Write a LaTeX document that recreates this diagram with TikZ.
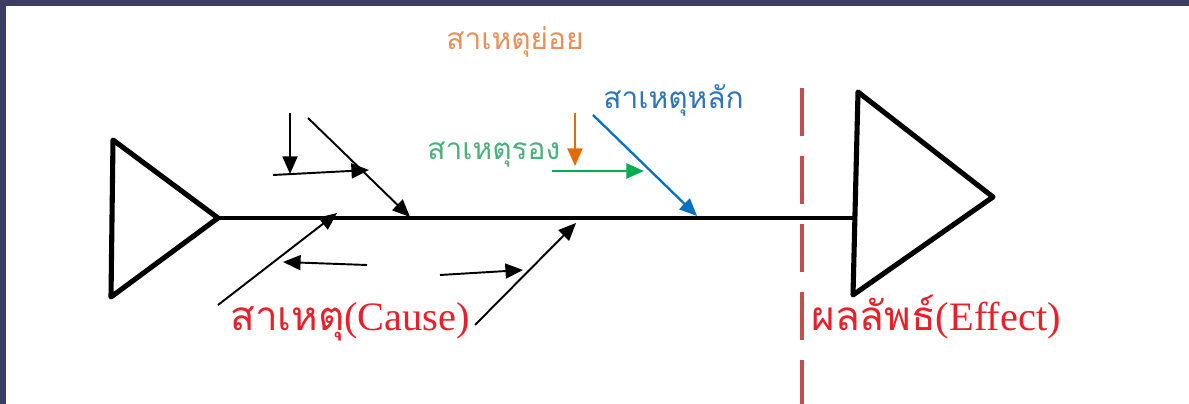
\documentclass[tikz,border=0pt]{standalone}
\usepackage{fontspec}
\setmainfont{Liberation Serif}
\newfontfamily\thaifont[Script=Thai]{Loma}
\usepackage{tikz}
\usetikzlibrary{arrows.meta, positioning}
\usepackage{xcolor}

\definecolor{frame}{HTML}{3C3D63}
\definecolor{causered}{HTML}{E8202A}
\definecolor{cutred}{HTML}{C0504D}
\definecolor{suborange}{HTML}{E6915A}
\definecolor{subarrow}{HTML}{E36C09}
\definecolor{secgreen}{HTML}{4CB07A}
\definecolor{secarrow}{HTML}{00B050}
\definecolor{mainblue}{HTML}{2E75B6}
\definecolor{mainarrow}{HTML}{0070C0}

\begin{document}
\begin{tikzpicture}[
  x=0.02cm, y=-0.02cm,
  tri/.style    = {line width=2.9pt, line join=round},
  spine/.style  = {line width=2.1pt},
  arr/.style    = {-{Triangle[length=10pt, width=8.5pt]}, line width=1.1pt},
  cut/.style    = {draw=cutred, line width=2.8pt, dash pattern=on 27.3pt off 11.4pt},
  sublbl/.style = {font=\thaifont\fontsize{17}{19}\selectfont, inner sep=0pt},
  biglbl/.style = {font=\fontsize{23}{25}\selectfont, text=causered, inner sep=0pt}
]
% frame and page
\fill[frame] (0,0) rectangle (1189,404);
\fill[white] (6,6) rectangle (1189,404);
\useasboundingbox (0,0) rectangle (1189,404);

% fish: tail, spine and head
\coordinate (tail) at (218,218);
\coordinate (head) at (855,218);
\draw[tri] (113,140) -- (tail) -- (111,297) -- cycle;
\draw[spine] (tail) -- (head);
\draw[tri] (858,92) -- (993,197) -- (853,295) -- cycle;

% cut between causes and effect
\coordinate (cuttop) at (802,88);
\coordinate (cutend) at (802,404);
\draw[cut] (cuttop) -- (cutend);

% black bones
\coordinate (b1) at (308,118);  \coordinate (b1e) at (410,217);
\coordinate (b2) at (218,305);  \coordinate (b2e) at (337,213);
\coordinate (b3) at (475,325);  \coordinate (b3e) at (576,223);
\draw[arr] (b1) -- (b1e);
\draw[arr] (b2) -- (b2e);
\draw[arr] (b3) -- (b3e);
\draw[arr] (290,113) -- (290,174);
\draw[arr] (273,175) -- (369,170);
\draw[arr] (367,265) -- (283,262);
\draw[arr] (440,275) -- (523,270);

% coloured bones
\coordinate (m1) at (593,115);  \coordinate (m1e) at (697,216);
\draw[arr, line width=1.3pt, draw=mainarrow, fill=mainarrow] (m1) -- (m1e);
\draw[arr, line width=1.3pt, draw=secarrow, fill=secarrow] (552,171) -- (644,171);
\draw[arr, line width=1.3pt, draw=subarrow, fill=subarrow] (575,113) -- (575,166);

% labels
\node[sublbl, text=suborange] (lsub) at (515,42) {สาเหตุย่อย};
\node[sublbl, text=mainblue, anchor=west] (lmain) at (603,100) {สาเหตุหลัก};
\node[sublbl, text=secgreen, anchor=west] (lsec) at (427,155) {สาเหตุรอง};
\node[biglbl, anchor=west] (lcause) at (230,322) {{\thaifont สาเหตุ}(Cause)};
\node[biglbl, anchor=west] (leffect) at (811,317) {{\thaifont ผลลัพธ์}(Effect)};

\end{tikzpicture}
\end{document}
